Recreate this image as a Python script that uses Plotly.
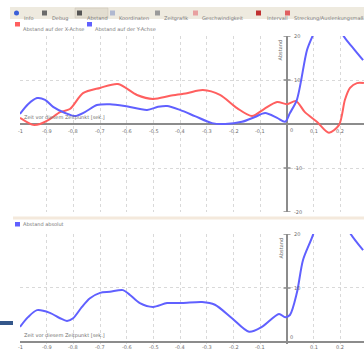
import plotly.graph_objects as go

W, H = 364, 351

# ---------------- data ----------------
t_red = [-1.000, -0.951, -0.925, -0.888, -0.850, -0.813, -0.764, -0.700, -0.633, -0.562,
         -0.502, -0.438, -0.375, -0.315, -0.251, -0.187, -0.131, -0.086, -0.037, 0.000,
         0.034, 0.067, 0.112, 0.157, 0.195, 0.217, 0.236, 0.262, 0.288]
abstand_x = [1.4, -0.2, 0.0, 1.1, 2.7, 3.4, 7.0, 8.2, 9.1, 6.6,
             5.7, 6.4, 7.0, 7.7, 6.6, 3.6, 1.8, 3.4, 5.0, 4.5,
             5.2, 2.7, 0.5, -2.0, -0.2, 5.5, 8.2, 9.3, 9.3]

t_blue = [-1.000, -0.970, -0.936, -0.906, -0.876, -0.831, -0.794, -0.757, -0.712, -0.663,
          -0.607, -0.524, -0.483, -0.449, -0.401, -0.345, -0.281, -0.232, -0.169, -0.120,
          -0.082, -0.037, -0.007, 0.011, 0.037, 0.075, 0.097, 0.124, 0.154, 0.184,
          0.210, 0.247, 0.285]
abstand_y = [2.3, 4.5, 5.9, 5.5, 3.9, 2.5, 1.8, 2.7, 4.3, 4.5,
             4.1, 3.2, 3.9, 4.1, 3.2, 1.8, 0.2, 0.0, 0.5, 1.6,
             2.5, 1.4, 0.5, 2.5, 5.5, 16.8, 20.2, 24.5, 27.0, 25.0,
             20.2, 17.3, 14.5]

t_abs = [-1.000, -0.970, -0.936, -0.888, -0.850, -0.824, -0.801, -0.768, -0.738, -0.700,
         -0.663, -0.614, -0.588, -0.551, -0.502, -0.449, -0.393, -0.318, -0.270, -0.206,
         -0.142, -0.094, -0.030, -0.007, 0.011, 0.037, 0.060, 0.097, 0.124, 0.154,
         0.184, 0.210, 0.236, 0.285]
abstand_abs = [2.8, 4.6, 5.9, 5.4, 4.4, 3.9, 4.4, 6.5, 8.1, 9.1,
               9.3, 9.6, 8.7, 7.2, 6.5, 7.2, 7.2, 7.4, 6.9, 4.4,
               1.9, 2.8, 5.2, 4.6, 5.0, 9.1, 15.2, 19.8, 24.5, 27.0,
               26.0, 23.0, 20.2, 17.0]

x_tick_vals = [-1, -0.9, -0.8, -0.7, -0.6, -0.5, -0.4, -0.3, -0.2, -0.1, 0.1, 0.2]
x_tick_text = ["-1", "-0.9", "-0.8", "-0.7", "-0.6", "-0.5", "-0.4", "-0.3", "-0.2", "-0.1", "0.1", "0.2"]
y_top_ticks = [-20, -10, 10, 20]
y_bottom_ticks = [10, 20]

toolbar_labels = ["Info", "Debug", "Abstand", "Koordinaten", "Zeitgrafik",
                  "Geschwindigkeit", "Intervall", "Streckung/Auslenkungsmaß"]
legend_top = ["Abstand auf der X-Achse", "Abstand auf der Y-Achse"]
legend_bottom = ["Abstand absolut"]
x_title = "Zeit vor diesem Zeitpunkt [sek.]"
y_title = "Abstand"

# ---------------- styling ----------------
RED = "#ff5f5f"
BLUE = "#6060ff"
GRID = "#d9d9d9"
AXIS = "#8c8c8c"
TXT = "#6e6e6e"
FONT = "DejaVu Sans"


def px(x):
    return x / W


def py(y):
    return 1 - y / H


fig = go.Figure()
fig.add_trace(go.Scatter(x=t_red, y=abstand_x, mode="lines", xaxis="x", yaxis="y",
                         line=dict(color=RED, width=2, shape="spline", smoothing=0.8)))
fig.add_trace(go.Scatter(x=t_blue, y=abstand_y, mode="lines", xaxis="x", yaxis="y",
                         line=dict(color=BLUE, width=2, shape="spline", smoothing=0.8)))
fig.add_trace(go.Scatter(x=t_abs, y=abstand_abs, mode="lines", xaxis="x2", yaxis="y2",
                         line=dict(color=BLUE, width=2, shape="spline", smoothing=0.8)))

xr = [-1, -1 + 344 / 267]
common_x = dict(range=xr, domain=[px(20), 1], dtick=0.1, tick0=-1, showgrid=True,
                gridcolor=GRID, griddash="dot", gridwidth=1, zeroline=True,
                zerolinecolor=AXIS, zerolinewidth=2, showticklabels=False, ticks="",
                showline=False, fixedrange=True)
fig.update_layout(
    width=W, height=H,
    margin=dict(l=0, r=0, t=0, b=0, autoexpand=False),
    paper_bgcolor="white", plot_bgcolor="white",
    showlegend=False,
    xaxis=dict(**common_x, anchor="y"),
    xaxis2=dict(**common_x, anchor="y2"),
    yaxis=dict(range=[-20, 20], domain=[py(212), py(36)], dtick=10, showgrid=True,
               gridcolor=GRID, griddash="dot", zeroline=True, zerolinecolor=AXIS,
               zerolinewidth=2, showticklabels=False, ticks="", anchor="x"),
    yaxis2=dict(range=[-0.3, 20], domain=[py(343.6), py(234)], dtick=10, showgrid=True,
                gridcolor=GRID, griddash="dot", zeroline=True, zerolinecolor=AXIS,
                zerolinewidth=2, showticklabels=False, ticks="", anchor="x2"),
    font=dict(family=FONT, size=5, color=TXT),
)

ann = []
shapes = []

# tick labels on the axes
for v, s in zip(x_tick_vals, x_tick_text):
    ann.append(dict(x=v, y=0, xref="x", yref="y", text=s, showarrow=False, yshift=-7,
                    font=dict(size=5, color=TXT)))
    ann.append(dict(x=v, y=0, xref="x2", yref="y2", text=s, showarrow=False, yshift=-5,
                    font=dict(size=5, color=TXT)))
ann.append(dict(x=0, y=0, xref="x", yref="y", text="0", showarrow=False, xshift=4, yshift=-6,
                font=dict(size=5, color=TXT)))
ann.append(dict(x=0, y=0, xref="x2", yref="y2", text="0", showarrow=False, xshift=4, yshift=5,
                font=dict(size=5, color=TXT)))
for v in y_top_ticks:
    ann.append(dict(x=0, y=v, xref="x", yref="y", text=str(v), showarrow=False, xshift=5,
                    xanchor="left", font=dict(size=5, color=TXT)))
for v in y_bottom_ticks:
    ann.append(dict(x=0, y=v, xref="x2", yref="y2", text=str(v), showarrow=False, xshift=5,
                    xanchor="left", font=dict(size=5, color=TXT)))

# tick marks on the y axes
fig.add_trace(go.Scatter(x=[0] * len(y_top_ticks), y=y_top_ticks, mode="markers", xaxis="x", yaxis="y",
                         marker=dict(symbol="line-ew", size=5, line=dict(color=AXIS, width=1.5))))
fig.add_trace(go.Scatter(x=[0] * len(y_bottom_ticks), y=y_bottom_ticks, mode="markers", xaxis="x2", yaxis="y2",
                         marker=dict(symbol="line-ew", size=5, line=dict(color=AXIS, width=1.5))))

# axis titles
for xa, ya in (("x", "y"), ("x2", "y2")):
    ann.append(dict(x=-1, y=0, xref=xa, yref=ya, text=x_title, showarrow=False, xanchor="left",
                    yanchor="bottom", xshift=2, yshift=1, font=dict(size=5, color=TXT)))
ann.append(dict(x=0, y=20, xref="x", yref="y", text=y_title, showarrow=False, textangle=-90,
                xanchor="right", yanchor="top", xshift=-2, yshift=-2, font=dict(size=5, color=TXT)))
ann.append(dict(x=0, y=20, xref="x2", yref="y2", text=y_title, showarrow=False, textangle=-90,
                xanchor="right", yanchor="top", xshift=-2, yshift=-2, font=dict(size=5, color=TXT)))

# toolbar strip
shapes.append(dict(type="rect", xref="paper", yref="paper", x0=px(10), x1=1, y0=py(19), y1=py(7),
                   fillcolor="#eeeadf", line=dict(width=0), layer="below"))
shapes.append(dict(type="rect", xref="paper", yref="paper", x0=px(75), x1=px(108), y0=py(18), y1=py(8),
                   fillcolor="#e2ddd0", line=dict(color="#c9c3b4", width=0.5), layer="below"))
tool_x = [22, 50, 85, 117, 162, 200, 265, 292]
icon_x = [17, 45, 80, 113, 158, 196, 259, 288]
icon_col = ["#3b5fd8", "#6b6b6b", "#555555", "#b0b8d0", "#9a9a9a", "#e8a0a0", "#c03030", "#e06060"]
for lab, x0, ix, ic in zip(toolbar_labels, tool_x, icon_x, icon_col):
    ann.append(dict(x=px(x0), y=py(13), xref="paper", yref="paper", text=lab, showarrow=False,
                    xanchor="left", font=dict(size=5, color="#777777")))
    shapes.append(dict(type="circle" if ix == 17 else "rect", xref="paper", yref="paper",
                       x0=px(ix - 3), x1=px(ix + 2), y0=py(15.5), y1=py(10.5),
                       fillcolor=ic, line=dict(width=0)))

# legends
leg_x = [15, 87]
for lab, lx, c in zip(legend_top, leg_x, [RED, BLUE]):
    shapes.append(dict(type="rect", xref="paper", yref="paper", x0=px(lx), x1=px(lx + 5),
                       y0=py(26.5), y1=py(22), fillcolor=c, line=dict(width=0)))
    ann.append(dict(x=px(lx + 6), y=py(24.3), xref="paper", yref="paper", text=lab, showarrow=False,
                    xanchor="left", font=dict(size=5, color="#777777")))
shapes.append(dict(type="rect", xref="paper", yref="paper", x0=px(15), x1=px(20),
                   y0=py(226.5), y1=py(222), fillcolor=BLUE, line=dict(width=0)))
ann.append(dict(x=px(21), y=py(224.3), xref="paper", yref="paper", text=legend_bottom[0], showarrow=False,
                xanchor="left", font=dict(size=5, color="#777777")))

# separator between panels
shapes.append(dict(type="rect", xref="paper", yref="paper", x0=px(13), x1=1, y0=py(219.5), y1=py(216.5),
                   fillcolor="#f4e9dc", line=dict(width=0), layer="below"))
# dark bar at lower left
shapes.append(dict(type="rect", xref="paper", yref="paper", x0=0, x1=px(13), y0=py(325), y1=py(321),
                   fillcolor="#34578a", line=dict(width=0)))

fig.update_layout(annotations=ann, shapes=shapes)
fig.write_html("out.html", config={"displayModeBar": False},
               post_script="document.body.style.margin='0px';document.body.style.padding='0px';")
